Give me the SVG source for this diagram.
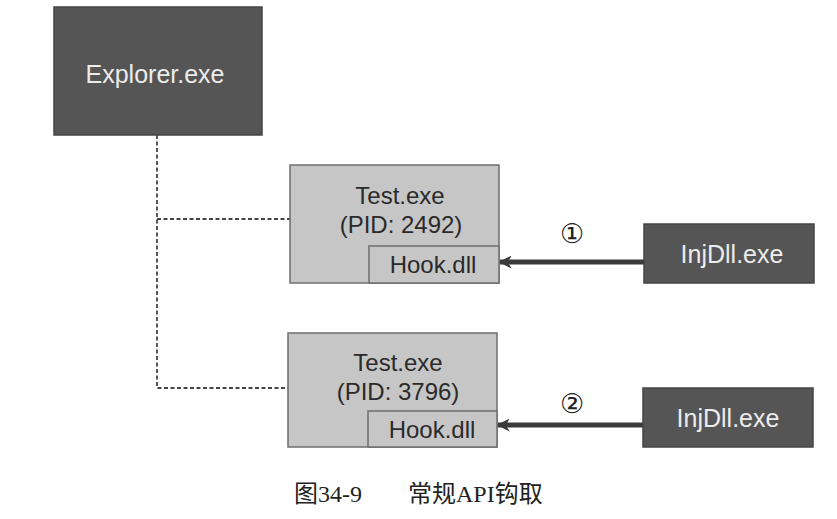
<svg xmlns="http://www.w3.org/2000/svg" width="837" height="519" viewBox="0 0 837 519">
<defs>
<style>
.dark{fill:#555;stroke:#444;stroke-width:1.5}
.light{fill:#c6c6c6;stroke:#6e6e6e;stroke-width:1.5}
.wt{fill:#ececec;font-family:"Liberation Sans","Noto Sans",sans-serif;font-size:25px;text-anchor:middle}
.bt{fill:#2a2a2a;font-family:"Liberation Sans","Noto Sans",sans-serif;font-size:24px;text-anchor:middle}
.dash{fill:none;stroke:#444;stroke-width:1.8;stroke-dasharray:4 2.5}
.arr{stroke:#3a3a3a;stroke-width:5;fill:none}
.num{fill:#222;font-family:"DejaVu Sans",sans-serif;font-size:27px;text-anchor:middle}
.cap{fill:#222;font-family:"Liberation Serif","Noto Sans CJK SC",serif;font-size:24px}
</style>
<marker id="ah" viewBox="0 0 10 10" refX="9" refY="5" markerWidth="2.6" markerHeight="2.6" orient="auto" markerUnits="strokeWidth">
<path d="M0,0 L10,5 L0,10 L3,5 Z" fill="#3a3a3a"/>
</marker>
</defs>
<g id="connectors">
<path class="dash" d="M157,135 V388 H288"/>
<path class="dash" d="M157,219 H290"/>
<line class="arr" x1="644" y1="262" x2="500" y2="262" marker-end="url(#ah)"/>
<line class="arr" x1="643" y1="425" x2="498" y2="425" marker-end="url(#ah)"/>
<text class="num" x="572" y="243">①</text>
<text class="num" x="572" y="413">②</text>
</g>
<g id="explorer">
<rect class="dark" x="54" y="7" width="208" height="128"/>
<text class="wt" x="155" y="83">Explorer.exe</text>
</g>
<g id="test1">
<rect class="light" x="290" y="165" width="209" height="118"/>
<text class="bt" x="400" y="204">Test.exe</text>
<text class="bt" x="401" y="233">(PID: 2492)</text>
<g id="hook1">
<rect class="light" x="369" y="246" width="130" height="37"/>
<text class="bt" x="433" y="273">Hook.dll</text>
</g>
</g>
<g id="test2">
<rect class="light" x="288" y="333" width="209" height="114"/>
<text class="bt" x="398" y="371">Test.exe</text>
<text class="bt" x="398" y="400">(PID: 3796)</text>
<g id="hook2">
<rect class="light" x="368" y="411" width="129" height="36"/>
<text class="bt" x="432" y="438">Hook.dll</text>
</g>
</g>
<g id="injdll1">
<rect class="dark" x="644" y="224" width="170" height="59"/>
<text class="wt" x="732" y="263">InjDll.exe</text>
</g>
<g id="injdll2">
<rect class="dark" x="643" y="388" width="170" height="59"/>
<text class="wt" x="728" y="427">InjDll.exe</text>
</g>
<text class="cap" x="294" y="502">图34-9<tspan x="408">常规API钩取</tspan></text>
</svg>
